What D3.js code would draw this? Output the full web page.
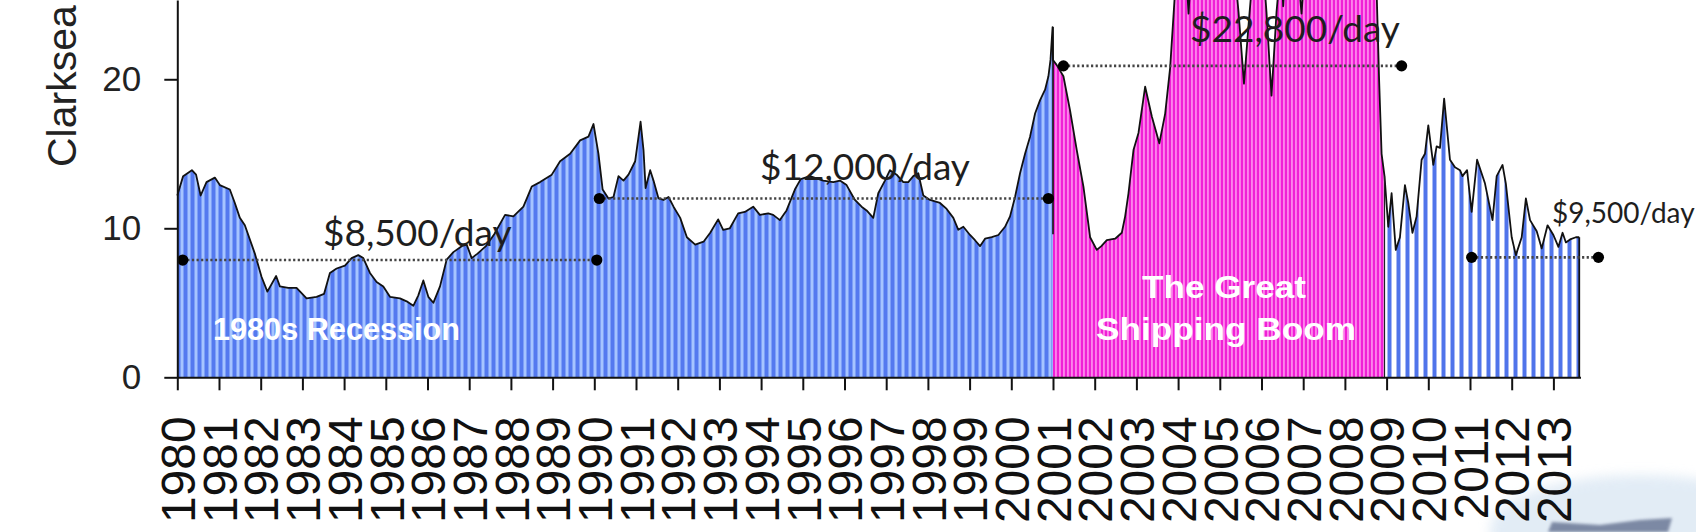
<!DOCTYPE html>
<html><head><meta charset="utf-8">
<script src="https://cdn.jsdelivr.net/npm/d3@7"></script>
<style>html,body{margin:0;padding:0;background:#fff;overflow:hidden}</style>
</head><body><svg id="c" width="1696" height="532"></svg>
<script>
// ---------- data ----------
const tickYears = d3.range(1980, 2014);
const yTicks = [0, 10, 20];

const preBoomYears = [1980.00,1980.14,1980.35,1980.45,1980.56,1980.70,1980.90,1981.02,1981.26,1981.38,1981.50,1981.62,1981.86,1982.02,1982.16,1982.37,1982.46,1982.66,1982.86,1983.10,1983.34,1983.52,1983.66,1983.82,1984.02,1984.18,1984.34,1984.46,1984.62,1984.78,1984.94,1985.10,1985.34,1985.50,1985.66,1985.78,1985.90,1986.02,1986.14,1986.30,1986.46,1986.62,1986.82,1986.94,1987.06,1987.20,1987.40,1987.60,1987.86,1988.06,1988.30,1988.50,1988.70,1988.98,1989.18,1989.42,1989.66,1989.86,1989.98,1990.10,1990.20,1990.34,1990.46,1990.58,1990.70,1990.82,1990.98,1991.11,1991.18,1991.23,1991.34,1991.42,1991.54,1991.66,1991.78,1991.90,1992.06,1992.22,1992.42,1992.62,1992.78,1992.97,1993.09,1993.25,1993.45,1993.61,1993.81,1993.97,1994.17,1994.29,1994.45,1994.61,1994.81,1994.95,1995.17,1995.49,1995.73,1995.89,1996.05,1996.25,1996.41,1996.53,1996.69,1996.81,1996.97,1997.09,1997.25,1997.41,1997.53,1997.65,1997.77,1997.89,1998.05,1998.29,1998.45,1998.61,1998.73,1998.85,1999.01,1999.13,1999.25,1999.37,1999.53,1999.69,1999.85,1999.97,2000.09,2000.21,2000.33,2000.45,2000.57,2000.69,2000.81,2000.89,2000.94,2000.99];
const preBoomValues = [12.2,13.5,13.9,13.6,12.2,13.1,13.4,12.9,12.6,11.7,10.7,10.2,8.3,6.75,5.75,6.8,6.1,6.0,6.0,5.3,5.4,5.6,7.0,7.3,7.5,8.0,8.2,8.0,7.0,6.4,6.1,5.4,5.3,5.1,4.8,5.5,6.5,5.4,5.0,6.1,7.9,8.4,8.8,8.9,8.0,8.3,8.8,9.6,10.9,10.8,11.45,12.8,13.1,13.6,14.5,15.0,15.9,16.15,17.0,15.0,12.6,12.0,12.1,13.5,13.2,13.6,14.5,17.15,15.25,12.7,13.9,13.2,12.0,11.9,12.1,11.45,10.7,9.4,8.9,9.1,9.7,10.6,9.9,10.0,11.0,11.1,11.45,10.9,11.0,10.9,10.55,11.2,12.6,13.3,13.5,13.2,13.1,13.2,12.9,11.9,11.45,11.2,10.7,12.35,13.2,13.9,13.6,13.1,13.1,13.5,13.7,12.2,11.9,11.7,11.3,10.7,9.9,10.1,9.55,9.2,8.8,9.3,9.4,9.55,10.1,10.8,12.1,13.7,15.0,16.15,17.7,18.6,19.3,20.2,21.3,23.5];

const boomYears = [2001.00,2001.09,2001.25,2001.41,2001.57,2001.73,2001.89,2002.05,2002.16,2002.29,2002.49,2002.65,2002.73,2002.81,2002.93,2003.05,2003.21,2003.37,2003.55,2003.69,2003.81,2003.92,2004.05,2004.18,2004.25,2004.35,2004.60,2004.85,2005.10,2005.30,2005.45,2005.58,2005.70,2005.82,2006.00,2006.12,2006.24,2006.36,2006.47,2006.52,2006.60,2006.85,2006.96,2007.10,2007.40,2007.70,2008.00,2008.30,2008.50,2008.65,2008.75,2008.82,2008.88,2008.95];
const boomValues = [21.3,20.95,20.2,17.9,15.25,12.8,9.4,8.55,8.8,9.2,9.3,9.7,10.8,12.35,15.25,16.4,19.5,17.5,15.7,17.7,20.8,25.6,30,28,24.4,29,34,37,35,29,24.5,19.7,24,28,29,24.5,18.9,24.5,28,24.9,29,28,24.4,30,34,42,45,43,47,40,27,20,15.0,13.5];

const postBoomYears = [2008.95,2009.04,2009.12,2009.22,2009.32,2009.44,2009.52,2009.62,2009.72,2009.84,2009.92,2010.00,2010.12,2010.20,2010.28,2010.38,2010.52,2010.64,2010.76,2010.82,2010.93,2011.04,2011.17,2011.36,2011.54,2011.64,2011.78,2011.86,2012.00,2012.10,2012.24,2012.34,2012.44,2012.60,2012.72,2012.86,2013.00,2013.12,2013.22,2013.30,2013.40,2013.54,2013.62];
const postBoomValues = [13.5,10.1,12.35,8.55,9.4,12.9,11.7,9.7,10.8,14.6,15.0,16.9,14.25,15.5,15.4,18.7,14.6,14.1,13.9,13.5,13.9,11.1,14.6,13.0,10.55,13.5,14.25,13.0,9.4,8.2,9.4,12.0,10.55,9.8,8.65,10.2,9.55,8.75,9.7,9.05,9.25,9.4,9.4];

const avgLabels = ["$8,500/day", "$12,000/day", "$22,800/day", "$9,500/day"];
const avgLevels = [7.87, 12.0, 20.9, 8.05];
const avgFrom = [1980.13, 1990.12, 2001.25, 2011.04];
const avgTo = [1990.06, 2000.89, 2009.36, 2014.08];

const yTitle = "Clarksea";

// ---------- scales ----------
const svg = d3.select("#c");
const x = d3.scaleLinear().domain([1980, 2013.65]).range([177.3, 1580.5]);
const y = d3.scaleLinear().domain([0, 25.32]).range([377.3, 0]);

const zip = (ts, vs) => ts.map((t, i) => [t, vs[i]]);
const pre = zip(preBoomYears, preBoomValues);
const boom = zip(boomYears, boomValues);
const post = zip(postBoomYears, postBoomValues);

// ---------- patterns ----------
const defs = svg.append("defs");
function stripes(id, w, base, light, lw, lx) {
  const p = defs.append("pattern").attr("id", id).attr("patternUnits", "userSpaceOnUse")
    .attr("x", 177).attr("y", 0).attr("width", w).attr("height", 10);
  p.append("rect").attr("width", w).attr("height", 10).attr("fill", base);
  p.append("rect").attr("x", lx).attr("width", lw).attr("height", 10).attr("fill", light);
}
stripes("pBlue", 7, "#5479EF", "#A6C4FF", 3, 3.5);
stripes("pPink", 4, "#F020D6", "#FF9DF0", 1.5, 2.2);
stripes("pPost", 9, "#FFFFFF", "#5074EA", 4, 4.5);

const blur = defs.append("filter").attr("id", "blur").attr("x", "-50%").attr("y", "-50%").attr("width", "200%").attr("height", "200%");
blur.append("feGaussianBlur").attr("stdDeviation", 6);

// ---------- photo fragment bottom-right ----------
svg.append("ellipse").attr("cx", 1640).attr("cy", 530).attr("rx", 150).attr("ry", 55)
  .attr("fill", "#d6e4f2").attr("opacity", 0.7).attr("filter", "url(#blur)");
svg.append("path").attr("d", "M1548,532 L1552,522 L1600,525 L1640,520 L1672,518 L1668,532 Z")
  .attr("fill", "#6b7896").attr("opacity", 0.85).style("filter", "blur(1.5px)");

// ---------- areas ----------
const area = d3.area().x(d => x(d[0])).y0(y(0)).y1(d => y(d[1]));
svg.append("path").datum(pre).attr("d", area).attr("fill", "url(#pBlue)");
svg.append("path").datum(boom).attr("d", area).attr("fill", "url(#pPink)");
svg.append("path").datum(post).attr("d", area).attr("fill", "url(#pPost)");

// ---------- outline ----------
const line = d3.line().x(d => x(d[0])).y(d => y(d[1]));
const all = pre.concat(boom, post.slice(1));
svg.append("path").datum(all).attr("d", line).attr("fill", "none")
  .attr("stroke", "#111").attr("stroke-width", 1.8).attr("stroke-linejoin", "round");
// edges
svg.append("line").attr("x1", x(2001)).attr("x2", x(2001)).attr("y1", y(23.5)).attr("y2", y(9.6))
  .attr("stroke", "#111").attr("stroke-width", 1.6);
svg.append("line").attr("x1", x(2008.95)).attr("x2", x(2008.95)).attr("y1", y(13.5)).attr("y2", y(0))
  .attr("stroke", "#222").attr("stroke-width", 1.2);
svg.append("line").attr("x1", x(2013.62)).attr("x2", x(2013.62)).attr("y1", y(9.4)).attr("y2", y(0))
  .attr("stroke", "#111").attr("stroke-width", 1.8);

// ---------- average dotted lines ----------
avgLabels.forEach((lab, i) => {
  svg.append("line").attr("x1", x(avgFrom[i])).attr("x2", x(avgTo[i]))
    .attr("y1", y(avgLevels[i])).attr("y2", y(avgLevels[i]))
    .attr("stroke", "#444").attr("stroke-width", 2.6).attr("stroke-dasharray", "2.2,2.4");
  [avgFrom[i], avgTo[i]].forEach(t => svg.append("circle").attr("cx", x(t)).attr("cy", y(avgLevels[i])).attr("r", 5.6).attr("fill", "#000"));
});

// annotation texts
const annoPos = [[323, 246, 37], [760, 180, 37], [1190, 42, 37], [1552, 223, 28]];
avgLabels.forEach((lab, i) => {
  svg.append("text").attr("x", annoPos[i][0]).attr("y", annoPos[i][1])
    .attr("font-family", "Lato, 'Open Sans', sans-serif").attr("font-size", annoPos[i][2])
    .attr("fill", "#1e1e1e").text(lab);
});

// era labels
const era = svg.append("g").attr("font-family", "'Liberation Sans', Arial, sans-serif")
  .attr("font-weight", "bold").attr("fill", "#fff").attr("font-size", 32);
era.append("text").attr("x", 213).attr("y", 340).attr("textLength", 247).attr("lengthAdjust", "spacingAndGlyphs").text("1980s Recession");
era.append("text").attr("x", 1224).attr("y", 298).attr("text-anchor", "middle").attr("textLength", 164).attr("lengthAdjust", "spacingAndGlyphs").text("The Great");
era.append("text").attr("x", 1226).attr("y", 340).attr("text-anchor", "middle").attr("textLength", 260).attr("lengthAdjust", "spacingAndGlyphs").text("Shipping Boom");

// ---------- axes ----------
const yAxis = svg.append("g").attr("transform", `translate(${x(1980)},0)`)
  .call(d3.axisLeft(y).tickValues(yTicks).tickSize(13).tickSizeOuter(0).tickPadding(23));
yAxis.selectAll("text").attr("font-family", "'Liberation Sans', Arial, sans-serif").attr("font-size", 35).attr("fill", "#222");
yAxis.selectAll("line,path").attr("stroke", "#111").attr("stroke-width", 2);

const xAxis = svg.append("g").attr("transform", `translate(0,${y(0)})`)
  .call(d3.axisBottom(x).tickValues(tickYears).tickSize(13).tickSizeOuter(0).tickFormat(d3.format("d")));
xAxis.selectAll("line,path").attr("stroke", "#111").attr("stroke-width", 2);
xAxis.selectAll("text").attr("font-family", "'Liberation Sans', Arial, sans-serif").attr("font-size", 48)
  .attr("fill", "#111").attr("transform", "rotate(-90)").attr("x", -39).attr("y", 0).attr("dy", "0.36em")
  .style("text-anchor", "end");

svg.append("text").attr("transform", "translate(76,167) rotate(-90)")
  .attr("font-family", "'Liberation Sans', Arial, sans-serif").attr("font-size", 41).attr("fill", "#222")
  .text(yTitle);
</script></body></html>
